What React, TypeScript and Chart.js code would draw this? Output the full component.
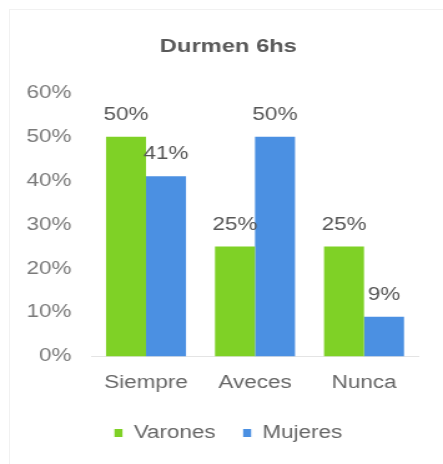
import React, { useEffect, useRef } from "react";
import { Chart, registerables } from "chart.js";

Chart.register(...registerables);

const categories = ["Siempre", "Aveces", "Nunca"];
const varones = [50, 25, 25];
const mujeres = [41, 50, 9];
const yTicks = [0, 10, 20, 30, 40, 50, 60];
const seriesNames = ["Varones", "Mujeres"];

const FONT = "'Liberation Sans', Arial, sans-serif";
const W = 443;
const H = 464;
const CW = 355; // canvas drawing width, stretched horizontally to W
const SX = W / CW;
const PAD_L = 12;
const PAD_R = 1;

const valueLabels = {
  id: "valueLabels",
  afterDatasetsDraw(chart: any) {
    const ctx = chart.ctx;
    ctx.save();
    ctx.font = `18px ${FONT}`;
    ctx.fillStyle = "#555555";
    ctx.textAlign = "center";
    ctx.textBaseline = "middle";
    chart.data.datasets.forEach((ds: any, i: number) => {
      const meta = chart.getDatasetMeta(i);
      meta.data.forEach((el: any, j: number) => {
        ctx.fillText(`${ds.data[j]}%`, el.x, el.y - 22);
      });
    });
    ctx.restore();
  },
};

export default function App() {
  const ref = useRef<HTMLCanvasElement | null>(null);
  useEffect(() => {
    if (!ref.current) return;
    const chart = new Chart(ref.current, {
      type: "bar",
      data: {
        labels: categories,
        datasets: [
          { label: seriesNames[0], data: varones, backgroundColor: "#7fd126" },
          { label: seriesNames[1], data: mujeres, backgroundColor: "#4b90e2" },
        ],
      },
      options: {
        responsive: false,
        animation: false,
        devicePixelRatio: 1,
        layout: { padding: { left: PAD_L, right: PAD_R, top: 5, bottom: 12 } },
        datasets: { bar: { categoryPercentage: 0.734, barPercentage: 1 } },
        plugins: {
          title: {
            display: true,
            text: "Durmen 6hs",
            color: "#595959",
            font: { family: FONT, size: 19, weight: "bold" },
            padding: { top: 30, bottom: 35 },
          },
          legend: {
            position: "bottom",
            labels: {
              boxWidth: 8 / SX,
              boxHeight: 8,
              padding: 22,
              color: "#666666",
              font: { family: FONT, size: 18 },
            },
          },
          tooltip: { enabled: false },
        },
        scales: {
          x: {
            grid: { display: false, drawTicks: false },
            border: { display: true, color: "#e4e4e4", width: 1 },
            ticks: { color: "#666666", font: { family: FONT, size: 18 }, padding: 16 },
            afterFit: (s: any) => {
              s.height -= 8;
            },
          },
          y: {
            min: 0,
            max: 60,
            afterBuildTicks: (s: any) => {
              s.ticks = yTicks.map((v) => ({ value: v }));
            },
            grid: { display: false, drawTicks: false },
            border: { display: false },
            ticks: {
              color: "#7a7a7a",
              font: { family: FONT, size: 18 },
              padding: 16,
              callback: (v: any) => `${v}%`,
            },
            afterFit: (s: any) => {
              s.width = 91.5 / SX - PAD_L;
            },
          },
          y2: {
            position: "right",
            display: true,
            grid: { display: false, drawTicks: false },
            border: { display: false },
            ticks: { display: false },
            afterFit: (s: any) => {
              s.width = CW - PAD_R - 418.5 / SX;
            },
          },
        },
      },
      plugins: [valueLabels],
    });
    return () => chart.destroy();
  }, []);

  return (
    <div
      style={{
        position: "absolute",
        left: 0,
        top: 0,
        width: W,
        height: H,
        overflow: "hidden",
        background: "#ffffff",
      }}
    >
      <div
        style={{
          position: "absolute",
          left: 9,
          top: 9,
          right: 0,
          bottom: 0,
          borderTop: "1px solid #f1f1f1",
          borderLeft: "1px solid #f1f1f1",
        }}
      />
      <div
        style={{
          position: "relative",
          width: CW,
          height: H,
          transform: `scaleX(${SX})`,
          transformOrigin: "0 0",
        }}
      >
        <canvas ref={ref} width={CW} height={H} style={{ display: "block" }} />
      </div>
    </div>
  );
}
